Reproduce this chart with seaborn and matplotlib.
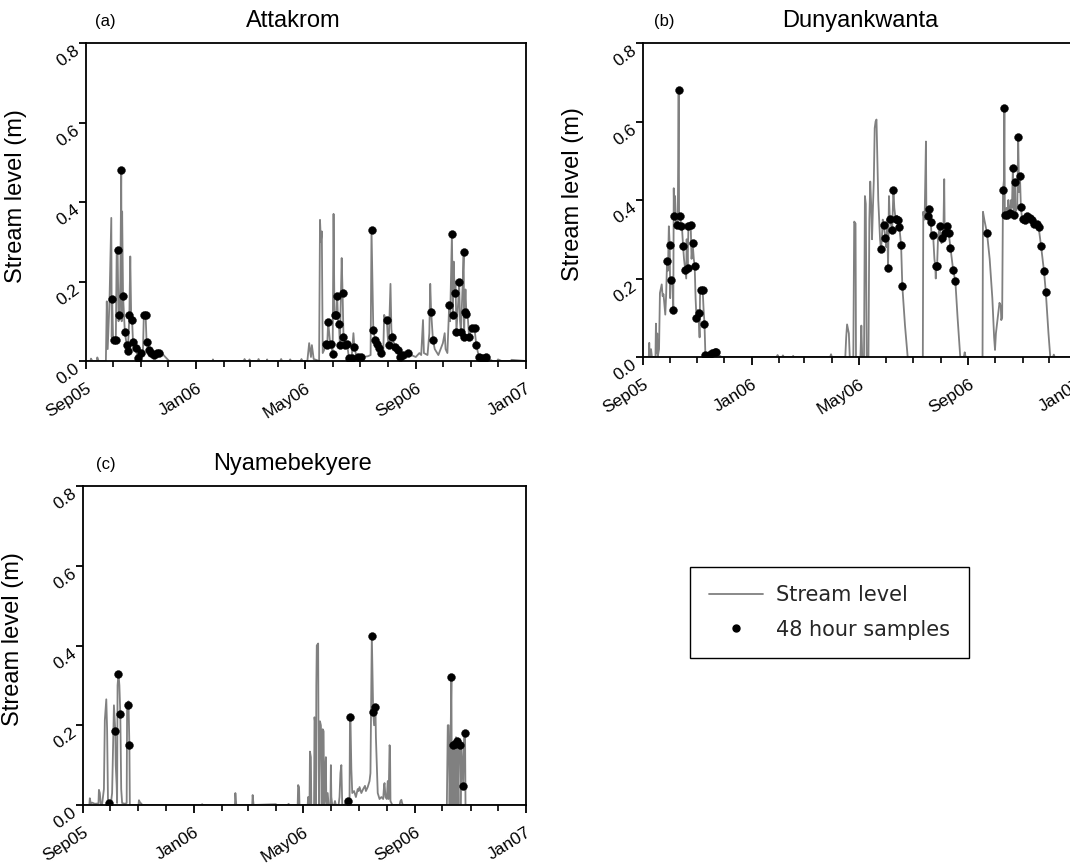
import numpy as np
import pandas as pd
import matplotlib
matplotlib.use("Agg")
import matplotlib.pyplot as plt
import matplotlib.dates as mdates
from matplotlib.lines import Line2D
import seaborn as sns

# ---------------- data (days since 2005-09-01) ----------------
START = "2005-09-01"
sites = ["Attakrom", "Dunyankwanta", "Nyamebekyere"]
panel_tags = ["(a)", "(b)", "(c)"]
y_ticks = [0.0, 0.2, 0.4, 0.6, 0.8]
legend_labels = ["Stream level", "48 hour samples"]

a_line_day = [0, 5, 5.5, 7, 12, 12.5, 14, 22, 22.5, 23, 24, 26, 28, 28.5, 29, 30, 31, 33, 34, 35, 36, 37, 38, 39,
              39.5, 40, 41, 42, 43, 45, 46, 47, 48, 49, 50, 51, 52, 54, 55, 57, 58, 60, 61, 63, 64, 66, 67, 68,
              70, 72, 75, 77, 79, 81, 84, 87, 92, 140, 140.5, 141, 175, 175.5, 176, 180, 181, 182, 190, 191, 192,
              200, 200.5, 201, 215, 216, 217, 225, 226, 227, 238, 238.5, 239, 245, 247, 249, 250, 252, 258, 259,
              260, 261, 262, 264, 266, 267, 268, 270, 271, 273, 274, 275, 276, 277, 278, 279, 280, 281, 283, 284,
              285, 287, 289, 291, 294, 296, 297, 299, 301, 304, 307, 312, 315, 316, 317, 318, 320, 322, 324, 326,
              329, 330, 331, 333, 334, 335, 337, 338, 339, 342, 345, 347, 351, 356, 360, 365, 369, 371, 373, 374,
              378, 380, 381, 382, 384, 386, 390, 395, 397, 398, 400, 402, 403, 405, 406, 407, 408, 409, 410, 412,
              413, 414, 415, 417, 418, 418.5, 419, 420, 421, 422, 424, 427, 430, 432, 435, 438, 442, 443, 446, 450,
              455, 456, 460, 470, 471, 487]
a_line_level = [0.0, 0.0, 0.006, 0.0, 0.0, 0.009, 0.0, 0.0, 0.07, 0.15, 0.03, 0.15, 0.36, 0.06, 0.156, 0.05, 0.053,
                0.053, 0.28, 0.28, 0.10, 0.115, 0.2, 0.481, 0.1, 0.376, 0.164, 0.12, 0.073, 0.04, 0.024, 0.06,
                0.116, 0.263, 0.11, 0.103, 0.049, 0.04, 0.032, 0.01, 0.007, 0.03, 0.019, 0.02, 0.116, 0.116, 0.05,
                0.049, 0.028, 0.019, 0.015, 0.01, 0.021, 0.021, 0.02, 0.012, 0.0, 0.0, 0.004, 0.0, 0.0, 0.005, 0.0,
                0.0, 0.004, 0.0, 0.0, 0.005, 0.0, 0.0, 0.004, 0.0, 0.0, 0.005, 0.0, 0.0, 0.004, 0.0, 0.0, 0.005, 0.0,
                0.0, 0.045, 0.01, 0.04, 0.005, 0.0, 0.355, 0.3, 0.326, 0.02, 0.03, 0.044, 0.04, 0.099, 0.05, 0.044,
                0.018, 0.37, 0.12, 0.116, 0.116, 0.164, 0.1, 0.093, 0.04, 0.259, 0.170, 0.06, 0.04, 0.044, 0.007,
                0.007, 0.07, 0.036, 0.015, 0.009, 0.009, 0.01, 0.012, 0.015, 0.33, 0.2, 0.078, 0.053, 0.044, 0.032,
                0.021, 0.02, 0.116, 0.11, 0.102, 0.06, 0.04, 0.194, 0.08, 0.06, 0.036, 0.028, 0.011, 0.015, 0.019,
                0.015, 0.01, 0.02, 0.015, 0.103, 0.02, 0.015, 0.07, 0.194, 0.124, 0.053, 0.03, 0.015, 0.045, 0.07,
                0.03, 0.02, 0.141, 0.1, 0.320, 0.116, 0.25, 0.170, 0.2, 0.074, 0.15, 0.200, 0.1, 0.074, 0.2, 0.274,
                0.061, 0.123, 0.18, 0.118, 0.13, 0.061, 0.082, 0.082, 0.04, 0.009, 0.007, 0.007, 0.009, 0.005, 0.0,
                0.0, 0.004, 0.0, 0.0, 0.003, 0.0]
a_samp_day = [29, 31, 33, 35, 37, 39, 41, 43, 45, 46, 48, 51, 52, 55, 58, 61, 64, 66, 68, 70, 72, 75, 79, 81,
              266, 267, 268, 271, 273, 276, 277, 278, 280, 281, 284, 285, 287, 289, 291, 294, 297, 301, 304,
              316, 318, 320, 322, 324, 326, 333, 335, 339, 342, 345, 347, 351, 356, 382, 384,
              402, 405, 406, 408, 410, 413, 415, 418, 418.5, 419, 421, 424, 427, 430, 432, 435, 438, 442, 443]
a_samp_level = [0.156, 0.053, 0.053, 0.28, 0.115, 0.481, 0.164, 0.073, 0.040, 0.024, 0.116, 0.103, 0.049, 0.032,
                0.007, 0.019, 0.116, 0.116, 0.049, 0.028, 0.019, 0.015, 0.021, 0.021,
                0.044, 0.040, 0.099, 0.044, 0.018, 0.116, 0.116, 0.164, 0.093, 0.040, 0.170, 0.060, 0.040, 0.044,
                0.007, 0.007, 0.036, 0.009, 0.009,
                0.330, 0.078, 0.053, 0.044, 0.032, 0.021, 0.102, 0.040, 0.060, 0.036, 0.028, 0.011, 0.015, 0.019,
                0.124, 0.053,
                0.141, 0.320, 0.116, 0.170, 0.074, 0.200, 0.074, 0.274, 0.061, 0.123, 0.118, 0.061, 0.082, 0.082,
                0.040, 0.009, 0.007, 0.007, 0.009]

b_line_day = [0, 6.5, 7, 7.5, 9, 10, 14, 14.5, 15, 16, 16.5, 18, 19, 21, 22, 23, 25, 26, 27, 28, 29, 30, 30.5, 31,
              33, 34, 34.5, 35, 36, 37, 38, 39, 40, 40.5, 41.5, 43, 44, 45, 46, 47.5, 48.5, 49, 50, 51, 53.5, 54.5,
              55.7, 57, 58, 59, 60, 61, 62.5, 63.5, 64, 65, 67, 68, 69, 70, 72, 74, 77, 81, 82, 85, 88, 150, 151,
              152, 156, 157, 158, 168, 168.5, 169, 210, 211, 212, 227, 228, 229, 231, 232, 236, 237, 238.5, 239,
              244, 245, 246, 248, 249, 250, 251, 253, 254, 255, 256, 257, 258, 259, 260, 261, 262, 263, 264, 265,
              266, 267, 268, 269, 270, 271, 272, 273, 274, 275, 276, 277, 278, 279.5, 280, 281, 282, 283, 284,
              285, 286, 287.7, 289.6, 291, 294, 297, 314, 314.5, 315, 316, 317.5, 318, 320, 321, 323, 324, 325.5,
              327, 328, 328.5, 329, 330, 331, 332, 333, 334, 335, 336, 337, 338, 338.5, 339, 341, 343, 345, 348,
              350.5, 353, 356, 360, 361, 362, 381, 381.5, 383, 386, 389, 392, 394, 395, 396, 398, 399, 400, 401.5,
              402, 403, 404, 405, 405.5, 406, 406.6, 408, 409, 410, 411, 412, 413, 414, 415, 416, 416.5, 417.5,
              418, 420, 421, 422, 423, 424, 425, 426, 429, 431, 434, 436.6, 439, 442, 444, 446.7, 450, 452, 455,
              457, 460, 461, 462, 487]
b_line_level = [0.0, 0.0, 0.036, 0.0, 0.02, 0.0, 0.0, 0.085, 0.01, 0.06, 0.0, 0.02, 0.163, 0.185, 0.155, 0.16,
                0.108, 0.16, 0.245, 0.22, 0.333, 0.286, 0.15, 0.197, 0.2, 0.121, 0.43, 0.358, 0.41, 0.34, 0.337,
                0.34, 0.681, 0.36, 0.358, 0.334, 0.32, 0.282, 0.25, 0.221, 0.2, 0.3, 0.227, 0.334, 0.337, 0.25,
                0.290, 0.25, 0.231, 0.15, 0.099, 0.12, 0.112, 0.05, 0.16, 0.170, 0.170, 0.12, 0.085, 0.006, 0.003,
                0.006, 0.010, 0.012, 0.012, 0.005, 0.0, 0.0, 0.005, 0.0, 0.0, 0.004, 0.0, 0.0, 0.003, 0.0, 0.0,
                0.007, 0.0, 0.0, 0.05, 0.083, 0.06, 0.0, 0.0, 0.345, 0.34, 0.0, 0.0, 0.08, 0.0, 0.0, 0.41, 0.39,
                0.0, 0.0, 0.35, 0.447, 0.39, 0.3, 0.38, 0.45, 0.583, 0.6, 0.605, 0.5, 0.4, 0.35, 0.3, 0.275, 0.3,
                0.35, 0.337, 0.32, 0.303, 0.28, 0.35, 0.227, 0.41, 0.351, 0.34, 0.324, 0.35, 0.426, 0.38, 0.36,
                0.351, 0.36, 0.350, 0.330, 0.286, 0.180, 0.08, 0.0, 0.0, 0.37, 0.36, 0.35, 0.549, 0.36, 0.360,
                0.377, 0.343, 0.3, 0.312, 0.25, 0.23, 0.2, 0.231, 0.231, 0.3, 0.32, 0.333, 0.3, 0.29, 0.303, 0.31,
                0.453, 0.32, 0.316, 0.333, 0.316, 0.278, 0.222, 0.193, 0.1, 0.0, 0.0, 0.012, 0.0, 0.0, 0.37, 0.35,
                0.316, 0.25, 0.15, 0.05, 0.018, 0.06, 0.1, 0.121, 0.138, 0.13, 0.094, 0.1, 0.426, 0.45, 0.634,
                0.37, 0.362, 0.38, 0.362, 0.4, 0.37, 0.367, 0.4, 0.38, 0.481, 0.37, 0.362, 0.445, 0.37, 0.38,
                0.560, 0.42, 0.462, 0.382, 0.36, 0.351, 0.350, 0.360, 0.354, 0.348, 0.340, 0.340, 0.330, 0.282,
                0.218, 0.165, 0.06, 0.0, 0.0, 0.006, 0.0, 0.0]
b_samp_day = [27, 30, 31, 34, 35, 38, 40, 41.5, 43, 45, 47.5, 50, 51, 53.5, 55.7, 58, 60, 62.5, 65, 67, 69, 70,
              72, 74, 77, 81, 82,
              267, 270, 272, 275, 277, 279.5, 281, 284, 286, 287.7, 289.6, 291,
              320, 321, 323, 325.5, 329, 330, 333, 336, 339, 341, 343, 345, 348, 350.5,
              386, 404, 405.5, 406.6, 409, 412, 415, 416.5, 417.5, 421, 423, 424, 426, 429, 431, 434, 436.6, 439,
              442, 444, 446.7, 450, 452]
b_samp_level = [0.245, 0.286, 0.197, 0.121, 0.358, 0.337, 0.681, 0.358, 0.334, 0.282, 0.221, 0.227, 0.334, 0.337,
                0.290, 0.231, 0.099, 0.112, 0.170, 0.170, 0.085, 0.006, 0.003, 0.006, 0.010, 0.012, 0.012,
                0.275, 0.337, 0.303, 0.227, 0.351, 0.324, 0.426, 0.351, 0.350, 0.330, 0.286, 0.180,
                0.360, 0.377, 0.343, 0.312, 0.231, 0.231, 0.333, 0.303, 0.316, 0.333, 0.316, 0.278, 0.222, 0.193,
                0.316, 0.426, 0.634, 0.362, 0.362, 0.367, 0.481, 0.362, 0.445, 0.560, 0.462, 0.382, 0.351, 0.350,
                0.360, 0.354, 0.348, 0.340, 0.340, 0.330, 0.282, 0.218, 0.165]

c_line_day = [0, 7, 7.5, 8.5, 10, 13, 17, 17.5, 18.5, 19.5, 21, 23, 24, 25.6, 26.5, 27.5, 29, 31, 32, 34, 35.5, 36,
              37, 37.5, 38, 39, 40, 41, 42, 43, 46, 48, 48.5, 49, 50, 51, 51.5, 61, 61.5, 63, 64, 65, 130, 131,
              132, 167, 167.5, 168.5, 186, 186.5, 187.5, 212, 213, 225, 226, 227, 236, 236.5, 237.5, 238, 247,
              247.5, 248, 249, 249.5, 250.5, 251, 254, 254.5, 255.5, 256, 256.5, 257, 258.5, 259, 259.5, 260,
              260.5, 261.5, 262, 263, 263.5, 264.5, 265, 266, 266.5, 267, 267.5, 268, 269, 270, 272, 272.5, 273,
              274, 276, 277, 278, 281, 282, 283, 284, 285, 287, 289, 291, 293, 293.5, 294, 295, 296, 298, 300,
              302, 303, 304, 306, 308, 310, 311, 313, 315, 316, 317.5, 318.5, 319, 320, 321.5, 322, 323, 324,
              326, 328, 330, 331, 331.5, 332.5, 334, 335, 335.5, 336, 337, 337.5, 338, 340, 348, 349, 350, 351,
              352, 400, 401, 402, 403, 404, 405, 405.5, 406.5, 407, 408, 409, 409.5, 410, 411.6, 412, 413, 414.5,
              415, 416, 417, 418, 419, 420, 420.5, 487]
c_line_level = [0.0, 0.0, 0.017, 0.004, 0.006, 0.003, 0.004, 0.038, 0.03, 0.002, 0.002, 0.04, 0.213, 0.265, 0.19,
                0.005, 0.004, 0.01, 0.03, 0.25, 0.186, 0.1, 0.05, 0.005, 0.3, 0.329, 0.3, 0.229, 0.04, 0.005,
                0.003, 0.005, 0.25, 0.250, 0.26, 0.150, 0.0, 0.0, 0.012, 0.005, 0.004, 0.0, 0.0, 0.002, 0.0, 0.0,
                0.03, 0.0, 0.0, 0.025, 0.0, 0.002, 0.0, 0.0, 0.003, 0.0, 0.0, 0.05, 0.045, 0.0, 0.0, 0.02, 0.0,
                0.0, 0.134, 0.12, 0.0, 0.0, 0.22, 0.2, 0.0, 0.3, 0.4, 0.405, 0.1, 0.0, 0.0, 0.21, 0.2, 0.16, 0.0,
                0.19, 0.185, 0.0, 0.02, 0.1, 0.12, 0.0, 0.0, 0.03, 0.0, 0.0, 0.1, 0.02, 0.0, 0.0, 0.01, 0.0, 0.0,
                0.02, 0.08, 0.1, 0.0, 0.0, 0.005, 0.010, 0.01, 0.22, 0.220, 0.09, 0.03, 0.035, 0.02, 0.04, 0.035,
                0.045, 0.03, 0.04, 0.048, 0.035, 0.045, 0.06, 0.08, 0.425, 0.29, 0.234, 0.2, 0.245, 0.17, 0.1,
                0.03, 0.015, 0.02, 0.015, 0.05, 0.055, 0.02, 0.015, 0.06, 0.06, 0.015, 0.15, 0.145, 0.01, 0.0, 0.0,
                0.01, 0.013, 0.003, 0.0, 0.0, 0.2, 0.2, 0.0, 0.15, 0.322, 0.0, 0.150, 0.0, 0.16, 0.152, 0.0, 0.17,
                0.161, 0.0, 0.16, 0.150, 0.0, 0.15, 0.1, 0.048, 0.18, 0.180, 0.0, 0.0]
c_samp_day = [29, 35.5, 39, 41, 49, 51, 291, 294, 317.5, 319, 321.5, 405, 406.5, 409, 411.6, 414.5, 418, 420]
c_samp_level = [0.004, 0.186, 0.329, 0.229, 0.250, 0.150, 0.010, 0.220, 0.425, 0.234, 0.245, 0.322, 0.150,
                0.152, 0.161, 0.150, 0.048, 0.180]

# ---------------- styling ----------------
sns.set_theme(style="ticks")
plt.rcParams["font.family"] = ["Liberation Sans", "DejaVu Sans"]

W, H = 1070, 865
fig = plt.figure(figsize=(W / 100, H / 100), dpi=100)

# axes boxes in pixels: left, right, top, bottom
boxes = [(86, 526, 43, 361), (643, 1077, 43, 357), (83, 526, 486, 805)]
tag_x = [0.043, 0.05, 0.052]
title_x = [0.47, 0.50, 0.474]
lines = [(a_line_day, a_line_level), (b_line_day, b_line_level), (c_line_day, c_line_level)]
samps = [(a_samp_day, a_samp_level), (b_samp_day, b_samp_level), (c_samp_day, c_samp_level)]

t0 = pd.Timestamp(START)


def to_dates(days):
    return t0 + pd.to_timedelta(np.asarray(days, dtype=float), unit="D")


for i in range(3):
    l, r, t, b = boxes[i]
    ax = fig.add_axes([l / W, 1 - b / H, (r - l) / W, (b - t) / H])
    ld, lv = lines[i]
    sd, sv = samps[i]
    df_line = pd.DataFrame({"date": to_dates(ld), "level": lv})
    df_samp = pd.DataFrame({"date": to_dates(sd), "level": sv})
    sns.lineplot(data=df_line, x="date", y="level", ax=ax, color="#808080", lw=1.3,
                 estimator=None, sort=False, zorder=2)
    sns.scatterplot(data=df_samp, x="date", y="level", ax=ax, color="black", s=32,
                    edgecolor="black", linewidth=0.3, zorder=3)
    ax.set_xlim(pd.Timestamp("2005-09-01"), pd.Timestamp("2007-01-01"))
    ax.set_ylim(0, 0.8)
    ax.set_yticks(y_ticks)
    ax.set_yticklabels([f"{v:.1f}" for v in y_ticks])
    ax.xaxis.set_major_locator(mdates.MonthLocator(bymonth=[1, 5, 9]))
    ax.xaxis.set_minor_locator(mdates.MonthLocator())
    ax.xaxis.set_major_formatter(mdates.DateFormatter("%b%y"))
    ax.tick_params(axis="x", which="major", direction="out", length=6, width=1.3, colors="black",
                   labelsize=12.5, pad=8)
    ax.tick_params(axis="x", which="minor", direction="out", length=4, width=1.2, colors="black")
    ax.tick_params(axis="y", which="major", direction="out", length=5, width=1.3, colors="black",
                   labelsize=12.5, pad=4)
    for lab in ax.get_xticklabels():
        lab.set_rotation(32)
        lab.set_ha("right")
        lab.set_va("top")
        lab.set_rotation_mode("anchor")
    for lab in ax.get_yticklabels():
        lab.set_rotation(37)
        lab.set_ha("right")
        lab.set_va("top")
        lab.set_rotation_mode("anchor")
    for sp in ax.spines.values():
        sp.set_visible(True)
        sp.set_color("black")
        sp.set_linewidth(1.3)
    ax.set_xlabel("")
    ax.set_ylabel("Stream level (m)", fontsize=17, color="black")
    ax.yaxis.set_label_coords(-59 / (r - l), 0.52)
    ax.grid(False)
    ax.text(tag_x[i], 1 + 22 / (b - t), panel_tags[i], transform=ax.transAxes, ha="center",
            va="center", fontsize=12, color="black")
    ax.text(title_x[i], 1 + 22 / (b - t), sites[i], transform=ax.transAxes, ha="center",
            va="center", fontsize=17, color="black")

handles = [Line2D([], [], color="#808080", lw=1.3),
           Line2D([], [], color="black", marker="o", ls="none", markersize=5)]
leg = fig.legend(handles, legend_labels, loc="center", bbox_to_anchor=(829.5 / W, 1 - 612.5 / H),
                 frameon=True, fancybox=False, edgecolor="black", framealpha=1,
                 prop={"family": "DejaVu Sans", "size": 15}, handlelength=2.6, handletextpad=0.6,
                 borderpad=0.9, labelspacing=0.69, borderaxespad=0)
leg.get_frame().set_linewidth(1.0)

fig.savefig("out.png", dpi=100)
